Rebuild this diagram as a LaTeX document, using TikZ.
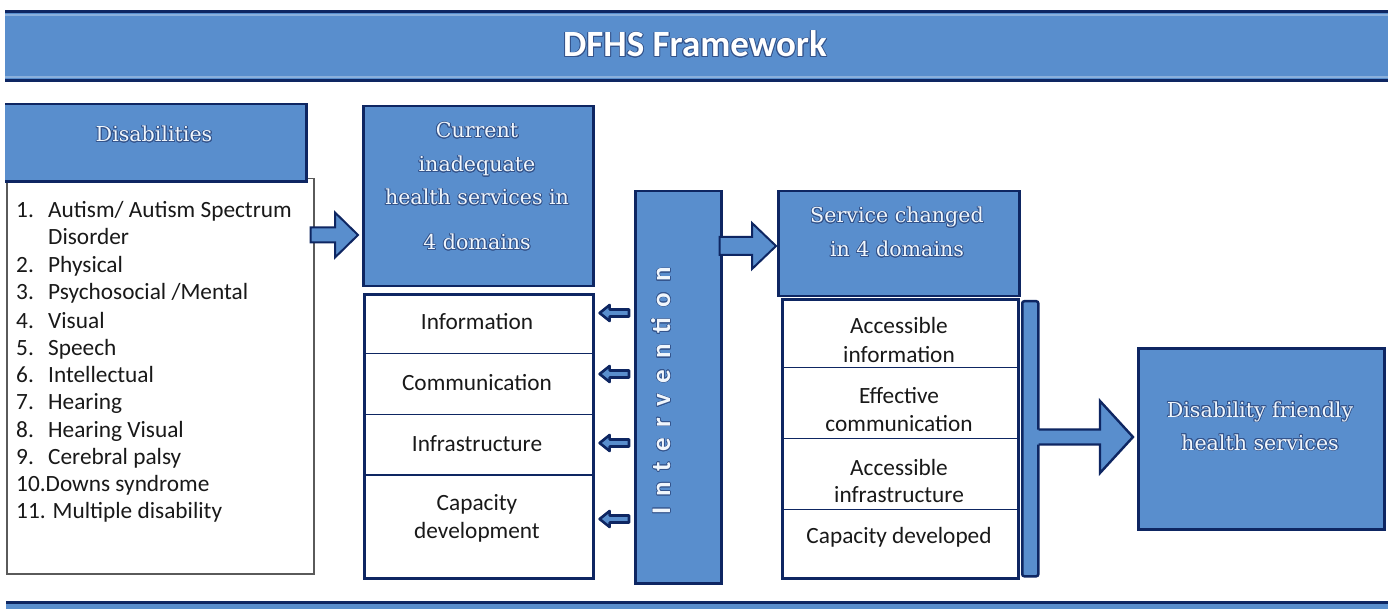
\documentclass[tikz,border=0pt]{standalone}
\usepackage{fontspec}
\usepackage{contour}
\setmainfont{Carlito}
\newfontfamily\hdrfont{DejaVu Serif}
\usetikzlibrary{calc}
\definecolor{fillb}{RGB}{89,142,205}
\definecolor{navy}{RGB}{14,38,98}
\definecolor{glowc}{RGB}{52,84,140}
\definecolor{txtw}{RGB}{240,246,252}
\definecolor{listgray}{RGB}{90,90,90}
\definecolor{bodyc}{RGB}{25,25,25}
\contourlength{0.9pt}
\tikzset{
  bluebox/.style={draw=navy, fill=fillb, line width=2.5pt, inner sep=0pt, anchor=north west},
  cellbox/.style={draw=navy, fill=white, line width=1.4pt, inner sep=0pt, anchor=north west},
  outerbox/.style={draw=navy, line width=2.6pt, inner sep=0pt, anchor=north west},
  blk/.style={draw=navy, fill=fillb, line width=2pt, line join=miter},
  smallblk/.style={draw=navy, fill=fillb, line width=2.6pt, line join=round},
  hdrtext/.style={font=\hdrfont\fontsize{20.6}{24}\selectfont, text=txtw, inner sep=0pt, anchor=base},
  titletext/.style={font=\bfseries\fontsize{37}{40}\selectfont, text=white, inner sep=0pt, anchor=base},
  bodytext/.style={font=\fontsize{23.3}{27}\selectfont, text=bodyc, inner sep=0pt},
}
\newcommand\glow[1]{\contour{glowc}{#1}}
% right-pointing block arrow: start, end(tip), shaft half, head half, head length
\newcommand\RArrow[5]{%
  \draw[blk] ($(#1)+(0,-#3)$) -- ($(#2)+(-#5,-#3)$) -- ($(#2)+(-#5,-#4)$) -- (#2)
    -- ($(#2)+(-#5,#4)$) -- ($(#2)+(-#5,#3)$) -- ($(#1)+(0,#3)$) -- cycle;}
% left-pointing small block arrow
\newcommand\LArrow[5]{%
  \draw[smallblk] ($(#1)+(0,-#3)$) -- ($(#2)+(#5,-#3)$) -- ($(#2)+(#5,-#4)$) -- (#2)
    -- ($(#2)+(#5,#4)$) -- ($(#2)+(#5,#3)$) -- ($(#1)+(0,#3)$) -- cycle;}
\begin{document}
\begin{tikzpicture}[x=1pt, y=-1pt]
\useasboundingbox (0,0) rectangle (1388,609);
\fill[white] (0,0) rectangle (1388,609);

% ---------- top banner ----------
\node[fill=fillb, inner sep=0pt, anchor=north west, minimum width=1383pt, minimum height=72pt] (banner) at (5,10) {};
\draw[fillb!70!white, line width=2pt] ([yshift=-5pt]banner.north west) -- ([yshift=-5pt]banner.north east);
\draw[fillb!70!white, line width=2pt] ([yshift=5pt]banner.south west) -- ([yshift=5pt]banner.south east);
\draw[navy, line width=3pt] ([yshift=-1.5pt]banner.north west) -- ([yshift=-1.5pt]banner.north east);
\draw[navy, line width=3pt] ([yshift=1.5pt]banner.south west) -- ([yshift=1.5pt]banner.south east);
\node[titletext] (title) at (695,57) {\glow{DFHS Framework}};

% ---------- bottom banner ----------
\node[fill=fillb, inner sep=0pt, anchor=north west, minimum width=1382pt, minimum height=10pt] (footer) at (6,601) {};
\draw[navy, line width=3pt] ([yshift=-1.5pt]footer.north west) -- ([yshift=-1.5pt]footer.north east);

% ---------- disabilities ----------
\node[draw=listgray, fill=white, line width=1.5pt, inner sep=0pt, anchor=north west,
      minimum width=307pt, minimum height=395pt] (listbox) at (6,178) {};
\node[fill=fillb, inner sep=0pt, anchor=north west, minimum width=301pt, minimum height=77pt] (dhead) at (5,104) {};
\draw[navy, line width=2.5pt] (dhead.north west) -- (dhead.north east) -- (dhead.south east) -- (dhead.south west);
\node[hdrtext] (dtitle) at (154,142) {\glow{Disabilities}};

\node[bodytext, anchor=base west] (n1)  at (16,218) {1.};
\node[bodytext, anchor=base west] (t1)  at (48,218) {Autism/ Autism Spectrum};
\node[bodytext, anchor=base west] (t1b) at (48,245) {Disorder};
\node[bodytext, anchor=base west] (n2)  at (16,273) {2.};
\node[bodytext, anchor=base west] (t2)  at (48,273) {Physical};
\node[bodytext, anchor=base west] (n3)  at (16,300) {3.};
\node[bodytext, anchor=base west] (t3)  at (48,300) {Psychosocial /Mental};
\node[bodytext, anchor=base west] (n4)  at (16,328) {4.};
\node[bodytext, anchor=base west] (t4)  at (48,328) {Visual};
\node[bodytext, anchor=base west] (n5)  at (16,355) {5.};
\node[bodytext, anchor=base west] (t5)  at (48,355) {Speech};
\node[bodytext, anchor=base west] (n6)  at (16,382) {6.};
\node[bodytext, anchor=base west] (t6)  at (48,382) {Intellectual};
\node[bodytext, anchor=base west] (n7)  at (16,409) {7.};
\node[bodytext, anchor=base west] (t7)  at (48,409) {Hearing};
\node[bodytext, anchor=base west] (n8)  at (16,437) {8.};
\node[bodytext, anchor=base west] (t8)  at (48,437) {Hearing Visual};
\node[bodytext, anchor=base west] (n9)  at (16,464) {9.};
\node[bodytext, anchor=base west] (t9)  at (48,464) {Cerebral palsy};
\node[bodytext, anchor=base west] (t10) at (16,491) {10.Downs syndrome};
\node[bodytext, anchor=base west] (t11) at (16,518) {11. Multiple disability};

% ---------- current inadequate ----------
\node[bluebox, minimum width=230pt, minimum height=180pt] (cur) at (362,105) {};
\node[hdrtext] (curA) at (477,138) {\glow{Current}};
\node[hdrtext] (curB) at (477,172) {\glow{inadequate}};
\node[hdrtext] (curC) at (477,205) {\glow{health services in}};
\node[hdrtext] (curD) at (477,250) {\glow{4 domains}};

\node[cellbox, minimum width=229pt, minimum height=60pt]  (r1) at (363,293) {};
\node[cellbox, minimum width=229pt, minimum height=61pt]  (r2) at (363,353) {};
\node[cellbox, minimum width=229pt, minimum height=61pt]  (r3) at (363,414) {};
\node[cellbox, minimum width=229pt, minimum height=102pt] (r4) at (363,475) {};
\draw[navy, line width=2.4pt] (r4.north west) -- (r4.north east);
\node[outerbox, minimum width=229pt, minimum height=284pt] (ltab) at (363,293) {};
\node[bodytext, anchor=base] (r1t)  at (477,330) {Information};
\node[bodytext, anchor=base] (r2t)  at (477,390) {Communication};
\node[bodytext, anchor=base] (r3t)  at (477,451) {Infrastructure};
\node[bodytext, anchor=base] (r4t)  at (477,510) {Capacity};
\node[bodytext, anchor=base] (r4tb) at (477,538) {development};

% ---------- intervention ----------
\node[bluebox, minimum width=86pt, minimum height=392pt] (intv) at (634,190) {};
\node[rotate=90, inner sep=0pt, text=txtw,
      font=\bfseries\fontsize{27}{30}\selectfont\addfontfeature{LetterSpace=40}] (intvt) at (661,391)
      {\contourlength{0.6pt}\contour{glowc}{Intervention}};

\coordinate (h313) at (0,313);
\coordinate (h374) at (0,374);
\coordinate (h443) at (0,443);
\coordinate (h519) at (0,519);
\coordinate (s1) at ([xshift=-5pt]intv.west |- h313);
\coordinate (e1) at ([xshift=5pt]ltab.east |- h313);
\coordinate (s2) at ([xshift=-5pt]intv.west |- h374);
\coordinate (e2) at ([xshift=5pt]ltab.east |- h374);
\coordinate (s3) at ([xshift=-5pt]intv.west |- h443);
\coordinate (e3) at ([xshift=5pt]ltab.east |- h443);
\coordinate (s4) at ([xshift=-5pt]intv.west |- h519);
\coordinate (e4) at ([xshift=5pt]ltab.east |- h519);
\LArrow{s1}{e1}{3.5}{8}{10}
\LArrow{s2}{e2}{3.5}{8}{10}
\LArrow{s3}{e3}{3.5}{8}{10}
\LArrow{s4}{e4}{3.5}{8}{10}

% ---------- arrow: disabilities -> current ----------
\coordinate (h235) at (0,235);
\coordinate (a1s) at ([xshift=-4pt]listbox.east |- h235);
\coordinate (a1e) at ([xshift=-4pt]cur.west |- h235);
\RArrow{a1s}{a1e}{7.5}{22.5}{23}

% ---------- service changed ----------
\node[bluebox, minimum width=241pt, minimum height=105pt] (serv) at (777,190) {};
\node[hdrtext] (servA) at (897,223) {\glow{Service changed}};
\node[hdrtext] (servB) at (897,257) {\glow{in 4 domains}};

\coordinate (h246) at (0,246);
\coordinate (a2s) at ([xshift=-3pt]intv.east |- h246);
\coordinate (a2e) at ([xshift=-1pt]serv.west |- h246);
\RArrow{a2s}{a2e}{9}{23}{24}

\node[cellbox, minimum width=236pt, minimum height=69pt] (q1) at (781,298) {};
\node[cellbox, minimum width=236pt, minimum height=71pt] (q2) at (781,367) {};
\node[cellbox, minimum width=236pt, minimum height=71pt] (q3) at (781,438) {};
\node[cellbox, minimum width=236pt, minimum height=68pt] (q4) at (781,509) {};
\node[outerbox, minimum width=236pt, minimum height=279pt] (rtab) at (781,298) {};
\node[bodytext, anchor=base] (q1t)  at (899,333) {Accessible};
\node[bodytext, anchor=base] (q1tb) at (899,362) {information};
\node[bodytext, anchor=base] (q2t)  at (899,403) {Effective};
\node[bodytext, anchor=base] (q2tb) at (899,431) {communication};
\node[bodytext, anchor=base] (q3t)  at (899,475) {Accessible};
\node[bodytext, anchor=base] (q3tb) at (899,502) {infrastructure};
\node[bodytext, anchor=base] (q4t)  at (899,543) {Capacity developed};

% ---------- bracket bar and final arrow ----------
\node[bluebox, rounded corners=2pt, minimum width=16pt, minimum height=275pt] (vbar) at (1021,300) {};
\node[bluebox, minimum width=246pt, minimum height=181pt] (final) at (1137,347) {};
\node[hdrtext] (finA) at (1260,417) {\glow{Disability friendly}};
\node[hdrtext] (finB) at (1260,450) {\glow{health services}};

\coordinate (h437) at (0,437);
\coordinate (a3s) at (vbar.center |- h437);
\coordinate (a3b) at ([xshift=-1pt]vbar.east |- h437);
\coordinate (a3e) at ([xshift=-4pt]final.west |- h437);
\fill[fillb] ($(a3s)+(0,-7.5)$) -- ($(a3e)+(-33,-7.5)$) -- ($(a3e)+(-33,-36)$) -- (a3e)
    -- ($(a3e)+(-33,36)$) -- ($(a3e)+(-33,7.5)$) -- ($(a3s)+(0,7.5)$) -- cycle;
\draw[navy, line width=2.4pt, line join=miter] ($(a3b)+(0,-7.5)$) -- ($(a3e)+(-33,-7.5)$) -- ($(a3e)+(-33,-36)$) -- (a3e)
    -- ($(a3e)+(-33,36)$) -- ($(a3e)+(-33,7.5)$) -- ($(a3b)+(0,7.5)$);
\end{tikzpicture}
\end{document}
